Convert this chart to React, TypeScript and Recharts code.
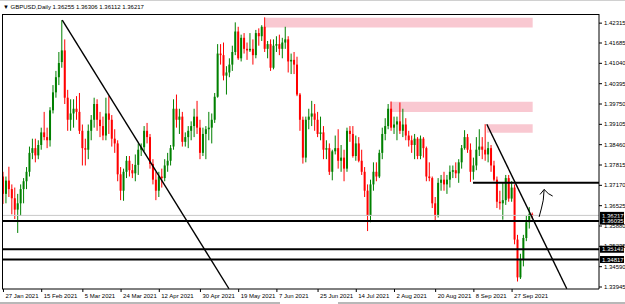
import { ComposedChart, Bar, XAxis, YAxis, ReferenceLine, ReferenceArea } from 'recharts';

const FONT = '"Liberation Sans", Arial, sans-serif';

// daily bars, 27 Jan 2021 .. 6 Oct 2021 (weekdays)
const open = [
  1.3745, 1.3690, 1.3732,
  1.3705, 1.3676, 1.3640, 1.3660, 1.3705, 1.3730, 1.3760, 1.3820, 1.3835, 1.3812, 1.3845, 1.3885, 1.3870, 1.3860, 1.3955, 1.4012, 1.4060, 1.4108, 1.4145, 1.3995,
  1.3925, 1.3945, 1.3960, 1.3950, 1.3890, 1.3835, 1.3830, 1.3890, 1.3925, 1.3975, 1.3925, 1.3905, 1.3875, 1.3945, 1.3925, 1.3865, 1.3850, 1.3752, 1.3700, 1.3760, 1.3795, 1.3765, 1.3755,
  1.3782, 1.3830, 1.3838, 1.3890, 1.3870, 1.3785, 1.3735, 1.3700, 1.3745, 1.3740, 1.3780, 1.3795, 1.3840, 1.3960, 1.3925, 1.3935, 1.3855, 1.3870, 1.3890, 1.3905, 1.3935, 1.3900,
  1.3820, 1.3880, 1.3895, 1.3900, 1.3925, 1.3998, 1.4135, 1.4130, 1.4065, 1.4075, 1.4100, 1.4140, 1.4205, 1.4120, 1.4185, 1.4150, 1.4145, 1.4150, 1.4130, 1.4200, 1.4190,
  1.4220, 1.4150, 1.4165, 1.4090, 1.4160, 1.4165, 1.4150, 1.4170, 1.4180, 1.4110, 1.4115, 1.4100, 1.4005, 1.3925, 1.3805, 1.3925, 1.3935, 1.3945, 1.3925, 1.3880, 1.3885, 1.3830,
  1.3835, 1.3760, 1.3825, 1.3835, 1.3795, 1.3805, 1.3770, 1.3890, 1.3880, 1.3810, 1.3850, 1.3795, 1.3760, 1.3700, 1.3620, 1.3720, 1.3760, 1.3745, 1.3820, 1.3880, 1.3905, 1.3960,
  1.3900, 1.3910, 1.3920, 1.3890, 1.3910, 1.3875, 1.3860, 1.3845, 1.3865, 1.3810, 1.3865, 1.3835, 1.3745, 1.3740, 1.3660, 1.3620, 1.3725, 1.3735, 1.3720, 1.3735, 1.3760, 1.3765,
  1.3755, 1.3790, 1.3835, 1.3870, 1.3830, 1.3760, 1.3780, 1.3830, 1.3840, 1.3830, 1.3815, 1.3835, 1.3780, 1.3735, 1.3665, 1.3660, 1.3670, 1.3740, 1.3675, 1.3710, 1.3545, 1.3425,
  1.3480, 1.3550, 1.3600, 1.36255,
];
const high = [
  1.3760, 1.3745, 1.3776,
  1.3720, 1.3710, 1.3690, 1.3720, 1.3740, 1.3775, 1.3840, 1.3865, 1.3865, 1.3860, 1.3900, 1.3950, 1.3900, 1.3965, 1.4035, 1.4080, 1.4140, 1.4241, 1.4180, 1.4020,
  1.3990, 1.3990, 1.4000, 1.4010, 1.3910, 1.3865, 1.3910, 1.3940, 1.3995, 1.3990, 1.3950, 1.3935, 1.3995, 1.4000, 1.3940, 1.3895, 1.3860, 1.3775, 1.3770, 1.3810, 1.3810, 1.3785, 1.3815,
  1.3850, 1.3850, 1.3905, 1.3915, 1.3880, 1.3800, 1.3760, 1.3760, 1.3770, 1.3800, 1.3820, 1.3845, 1.3990, 1.4005, 1.3960, 1.3950, 1.3885, 1.3905, 1.3920, 1.3960, 1.3985, 1.3925,
  1.3900, 1.3905, 1.3950, 1.3945, 1.4010, 1.4165, 1.4165, 1.4170, 1.4095, 1.4120, 1.4160, 1.4234, 1.4220, 1.4195, 1.4200, 1.4170, 1.4200, 1.4180, 1.4210, 1.4215, 1.4225,
  1.4250, 1.4175, 1.4180, 1.4180, 1.4190, 1.4195, 1.4185, 1.4220, 1.4190, 1.4135, 1.4140, 1.4125, 1.4010, 1.3935, 1.3935, 1.3960, 1.3985, 1.3975, 1.3950, 1.3935, 1.3905, 1.3860,
  1.3850, 1.3830, 1.3875, 1.3895, 1.3845, 1.3830, 1.3900, 1.3905, 1.3905, 1.3875, 1.3870, 1.3830, 1.3775, 1.3720, 1.3735, 1.3790, 1.3790, 1.3830, 1.3900, 1.3930, 1.3975, 1.3983,
  1.3935, 1.3935, 1.3980, 1.3960, 1.3930, 1.3890, 1.3875, 1.3880, 1.3870, 1.3875, 1.3870, 1.3840, 1.3790, 1.3745, 1.3680, 1.3740, 1.3750, 1.3760, 1.3750, 1.3780, 1.3780, 1.3790,
  1.3800, 1.3845, 1.3892, 1.3880, 1.3850, 1.3805, 1.3870, 1.3895, 1.3870, 1.3911, 1.3855, 1.3845, 1.3795, 1.3745, 1.3700, 1.3725, 1.3750, 1.3750, 1.3730, 1.3720, 1.3560, 1.3500,
  1.3560, 1.3620, 1.3648, 1.36306,
];
const low = [
  1.3658, 1.3660, 1.3680,
  1.3625, 1.3610, 1.3566, 1.3620, 1.3660, 1.3705, 1.3745, 1.3800, 1.3790, 1.3800, 1.3830, 1.3860, 1.3835, 1.3840, 1.3945, 1.3995, 1.4035, 1.4090, 1.3975, 1.3890,
  1.3890, 1.3900, 1.3925, 1.3880, 1.3780, 1.3780, 1.3800, 1.3860, 1.3900, 1.3890, 1.3870, 1.3860, 1.3860, 1.3880, 1.3840, 1.3820, 1.3730, 1.3670, 1.3668, 1.3740, 1.3745, 1.3740, 1.3730,
  1.3750, 1.3810, 1.3825, 1.3850, 1.3770, 1.3720, 1.3670, 1.3680, 1.3710, 1.3730, 1.3760, 1.3780, 1.3830, 1.3900, 1.3880, 1.3840, 1.3840, 1.3835, 1.3860, 1.3870, 1.3880, 1.3800,
  1.3810, 1.3800, 1.3860, 1.3850, 1.3915, 1.3995, 1.4100, 1.4050, 1.4005, 1.4060, 1.4080, 1.4130, 1.4115, 1.4110, 1.4135, 1.4115, 1.4140, 1.4100, 1.4120, 1.4160, 1.4175,
  1.4140, 1.4120, 1.4080, 1.4085, 1.4140, 1.4130, 1.4120, 1.4150, 1.4075, 1.4070, 1.4070, 1.4000, 1.3890, 1.3786, 1.3790, 1.3895, 1.3905, 1.3890, 1.3870, 1.3860, 1.3800, 1.3800,
  1.3750, 1.3733, 1.3815, 1.3770, 1.3760, 1.3730, 1.3760, 1.3855, 1.3805, 1.3795, 1.3790, 1.3750, 1.3680, 1.3572, 1.3600, 1.3700, 1.3730, 1.3740, 1.3800, 1.3860, 1.3895, 1.3890,
  1.3880, 1.3860, 1.3880, 1.3870, 1.3860, 1.3840, 1.3820, 1.3800, 1.3800, 1.3800, 1.3805, 1.3730, 1.3730, 1.3645, 1.3602, 1.3615, 1.3700, 1.3700, 1.3690, 1.3710, 1.3740, 1.3740,
  1.3725, 1.3770, 1.3830, 1.3820, 1.3728, 1.3735, 1.3765, 1.3810, 1.3800, 1.3795, 1.3790, 1.3760, 1.3730, 1.3645, 1.3640, 1.3608, 1.3655, 1.3665, 1.3665, 1.3530, 1.3412, 1.3420,
  1.3460, 1.3540, 1.3580, 1.36112,
];
const close = [
  1.3690, 1.3732, 1.3705,
  1.3676, 1.3640, 1.3660, 1.3705, 1.3730, 1.3760, 1.3820, 1.3835, 1.3812, 1.3845, 1.3885, 1.3870, 1.3860, 1.3955, 1.4012, 1.4060, 1.4105, 1.4145, 1.3995, 1.3925,
  1.3945, 1.3960, 1.3950, 1.3890, 1.3835, 1.3830, 1.3890, 1.3925, 1.3975, 1.3925, 1.3905, 1.3875, 1.3945, 1.3925, 1.3865, 1.3850, 1.3752, 1.3700, 1.3760, 1.3795, 1.3765, 1.3755, 1.3782,
  1.3830, 1.3838, 1.3890, 1.3870, 1.3785, 1.3735, 1.3700, 1.3745, 1.3740, 1.3780, 1.3795, 1.3835, 1.3960, 1.3925, 1.3935, 1.3855, 1.3870, 1.3890, 1.3905, 1.3935, 1.3900, 1.3820,
  1.3880, 1.3895, 1.3900, 1.3925, 1.3998, 1.4135, 1.4130, 1.4065, 1.4075, 1.4100, 1.4140, 1.4205, 1.4120, 1.4185, 1.4150, 1.4145, 1.4150, 1.4130, 1.4200, 1.4190, 1.4220,
  1.4150, 1.4165, 1.4090, 1.4160, 1.4165, 1.4150, 1.4170, 1.4180, 1.4110, 1.4115, 1.4100, 1.4005, 1.3925, 1.3805, 1.3925, 1.3935, 1.3945, 1.3925, 1.3880, 1.3885, 1.3830, 1.3835,
  1.3760, 1.3825, 1.3835, 1.3795, 1.3805, 1.3770, 1.3890, 1.3880, 1.3810, 1.3850, 1.3795, 1.3760, 1.3700, 1.3620, 1.3720, 1.3760, 1.3745, 1.3820, 1.3880, 1.3905, 1.3960, 1.3900,
  1.3910, 1.3920, 1.3890, 1.3910, 1.3875, 1.3860, 1.3845, 1.3865, 1.3810, 1.3865, 1.3835, 1.3745, 1.3740, 1.3660, 1.3620, 1.3725, 1.3735, 1.3720, 1.3735, 1.3760, 1.3765, 1.3755,
  1.3790, 1.3835, 1.3870, 1.3830, 1.3760, 1.3780, 1.3830, 1.3840, 1.3830, 1.3815, 1.3835, 1.3780, 1.3735, 1.3665, 1.3660, 1.3670, 1.3740, 1.3675, 1.3710, 1.3545, 1.3425, 1.3480,
  1.3550, 1.3600, 1.3625, 1.36217,
];

// time axis labels: bar index -> text
const dateTicks = [0, 13, 27, 40, 53, 67, 80, 93, 107, 120, 133, 147, 160, 173];
const dateLabels = [
  '27 Jan 2021', '15 Feb 2021', '5 Mar 2021', '24 Mar 2021', '12 Apr 2021', '30 Apr 2021', '19 May 2021',
  '7 Jun 2021', '25 Jun 2021', '14 Jul 2021', '2 Aug 2021', '20 Aug 2021', '8 Sep 2021', '27 Sep 2021',
];
const priceTicks = [
  1.42315, 1.41685, 1.4104, 1.40395, 1.3975, 1.39105, 1.3846, 1.37815, 1.3717, 1.36525, 1.3588, 1.35235, 1.3459, 1.33945,
];

// drawn objects
const levels = [1.36035, 1.35143, 1.34817];
const bidPrice = 1.36217;
const resistance = { from: 159.7, price: 1.3725 };
const zones = [
  { x1: 89, x2: 180, y1: 1.4218, y2: 1.4249 },
  { x1: 131.5, x2: 180, y1: 1.3950, y2: 1.3982 },
  { x1: 164.4, x2: 180, y1: 1.3884, y2: 1.3911 },
];
const trendLines = [
  [{ x: 20, y: 1.4241 }, { x: 76.7, y: 1.3389 }],
  [{ x: 164.4, y: 1.3911 }, { x: 191.6, y: 1.3389 }],
];
const arrowPts = [[182.2, 1.3617], [183.0, 1.3645], [183.6, 1.3670], [183.9, 1.3704]];
const arrowHead = [[182.5, 1.3688], [183.9, 1.3704], [185.3, 1.3691], [186.8, 1.3683]];

const data = open.map((o, i) => ({
  i,
  o,
  h: high[i],
  l: low[i],
  c: close[i],
  range: [low[i], high[i]],
}));

const Candle = (props: any) => {
  const { x, y, width, height, payload } = props;
  if (x == null || y == null) return null;
  const top = Math.min(y, y + height);
  const h = Math.abs(height);
  const { o, c } = payload;
  const hi = payload.h;
  const lo = payload.l;
  const k = hi > lo ? h / (hi - lo) : 0;
  const cx = x + width / 2;
  const bTop = top + (hi - Math.max(o, c)) * k;
  const bH = Math.max(1, Math.abs(o - c) * k);
  const color = c >= o ? '#008000' : '#ff0000';
  return (
    <g>
      <rect x={cx - 0.5} y={top} width={1} height={Math.max(h, 1)} fill={color} />
      <rect x={cx - 1} y={bTop} width={2} height={bH} fill={color} />
    </g>
  );
};

const DateTick = (props: any) => {
  const { x, y, payload } = props;
  const idx = dateTicks.indexOf(payload.value);
  return (
    <g>
      <line x1={x} y1={y} x2={x} y2={y + 3} stroke="#000" />
      <text x={x + 2} y={y + 9} fontSize={6} fontFamily={FONT} fill="#000">
        {dateLabels[idx]}
      </text>
    </g>
  );
};

const PriceTag = ({ viewBox, value }: any) => {
  if (!viewBox) return null;
  const x = viewBox.x + viewBox.width + 1;
  return (
    <g>
      <rect x={x} y={viewBox.y - 3.5} width={24} height={7} fill="#000" />
      <text x={x + 2} y={viewBox.y + 2.2} fontSize={6} fontFamily={FONT} fill="#fff">
        {value.toFixed(5)}
      </text>
    </g>
  );
};

export default function App() {
  return (
    <div style={{ position: 'absolute', left: 0, top: 0, width: 625, height: 304, background: '#fff' }}>
      <div style={{ position: 'absolute', left: 0, top: 0, width: 625, height: 1, background: '#d0d0d0' }} />
      <div
        style={{
          position: 'absolute', left: 3, top: 4, fontSize: 6, fontFamily: FONT, color: '#000',
          whiteSpace: 'nowrap', lineHeight: '7px',
        }}
      >
        ▼ GBPUSD,Daily 1.36255 1.36306 1.36112 1.36217
      </div>
      <ComposedChart
        width={625}
        height={304}
        data={data}
        margin={{ top: 14, right: 0, left: 2, bottom: 0 }}
      >
        <XAxis
          type="number"
          dataKey="i"
          domain={[-0.5, 202.56]}
          allowDataOverflow
          ticks={dateTicks}
          interval={0}
          height={15}
          tickSize={0}
          tickMargin={0}
          tickLine={false}
          axisLine={{ stroke: '#000' }}
          tick={<DateTick />}
        />
        <YAxis
          orientation="right"
          type="number"
          domain={[1.33882, 1.42605]}
          allowDataOverflow
          ticks={priceTicks}
          interval={0}
          width={26}
          tickSize={3}
          tickMargin={2}
          tickLine={{ stroke: '#000' }}
          axisLine={{ stroke: '#000' }}
          tickFormatter={(v: number) => v.toFixed(5)}
          tick={{ fontSize: 6, fill: '#000', fontFamily: FONT }}
        />
        {zones.map((z, k) => (
          <ReferenceArea
            key={'z' + k}
            x1={z.x1}
            x2={z.x2}
            y1={z.y1}
            y2={z.y2}
            fill="#f9c8d1"
            fillOpacity={1}
            stroke="none"
            ifOverflow="visible"
          />
        ))}
        <Bar dataKey="range" barSize={2} shape={<Candle />} isAnimationActive={false} />
        <ReferenceLine
          y={bidPrice}
          stroke="#c8c8c8"
          strokeWidth={1}
          label={<PriceTag value={bidPrice} />}
        />
        {levels.map((v) => (
          <ReferenceLine key={v} y={v} stroke="#000" strokeWidth={2} label={<PriceTag value={v} />} />
        ))}
        <ReferenceLine
          segment={[{ x: resistance.from, y: resistance.price }, { x: 202.56, y: resistance.price }]}
          stroke="#000"
          strokeWidth={2}
          ifOverflow="visible"
        />
        {trendLines.map((s, k) => (
          <ReferenceLine key={'t' + k} segment={s} stroke="#000" strokeWidth={1.4} ifOverflow="visible" />
        ))}
        {[arrowPts, arrowHead].map((pts, k) =>
          pts.slice(1).map((p, j) => (
            <ReferenceLine
              key={'a' + k + '-' + j}
              segment={[{ x: pts[j][0], y: pts[j][1] }, { x: p[0], y: p[1] }]}
              stroke="#000"
              strokeWidth={1}
              ifOverflow="visible"
            />
          ))
        )}
      </ComposedChart>
      <div
        style={{
          position: 'absolute', left: 2, top: 14, width: 597, height: 275,
          borderTop: '1px solid #000', borderLeft: '1px solid #000', boxSizing: 'border-box', pointerEvents: 'none',
        }}
      />
      <div style={{ position: 'absolute', left: 0, top: 302, width: 280, height: 2, background: '#b8b8b8' }} />
      <div style={{ position: 'absolute', left: 338, top: 302, width: 287, height: 2, background: '#b8b8b8' }} />
    </div>
  );
}
